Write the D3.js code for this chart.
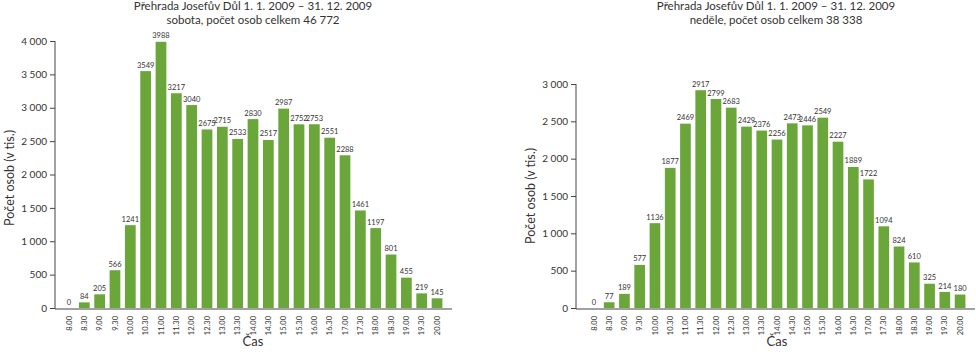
<!DOCTYPE html>
<html lang="cs">
<head>
    <meta charset="UTF-8">
    <title>Přehrada Josefův Důl</title>
    <script src="https://d3js.org/d3.v7.min.js"></script>
    <style>
        body { margin: 0; background: #fff; }
        text { font-family: Lato, "Open Sans", sans-serif; fill: #333; }
    </style>
</head>
<body>
<script>
    var width = 976;
    var height = 354;

    // casy (osa x)
    var casy = ["8.00", "8.30", "9.00", "9.30", "10.00", "10.30", "11.00", "11.30", "12.00", "12.30",
        "13.00", "13.30", "14.00", "14.30", "15.00", "15.30", "16.00", "16.30", "17.00", "17.30",
        "18.00", "18.30", "19.00", "19.30", "20.00"];

    // sobota
    var sobota = [0, 84, 205, 566, 1241, 3549, 3988, 3217, 3040, 2675, 2715, 2533, 2830, 2517, 2987,
        2752, 2753, 2551, 2288, 1461, 1197, 801, 455, 219, 145];
    var sobotaTicks = [0, 500, 1000, 1500, 2000, 2500, 3000, 3500, 4000];

    // nedele
    var nedele = [0, 77, 189, 577, 1136, 1877, 2469, 2917, 2799, 2683, 2429, 2376, 2256, 2473, 2446,
        2549, 2227, 1889, 1722, 1094, 824, 610, 325, 214, 180];
    var nedeleTicks = [0, 500, 1000, 1500, 2000, 2500, 3000];

    var green = "#6aa63a";

    var svg = d3.select("body").append("svg")
        .attr("width", width)
        .attr("height", height)

    function fmt(v) {
        return d3.format(",")(v).replace(/,/g, " ")
    }

    function drawChart(opt) {
        var g = svg.append("g")

        var x = d3.scaleBand()
            .domain(casy)
            .range([opt.x0, opt.x1])
            .padding(0.3)

        var y = d3.scaleLinear()
            .domain([0, d3.max(opt.ticks)])
            .range([opt.base, opt.top])

        // titulek
        g.append("text")
            .attr("x", opt.titleX)
            .attr("y", 10)
            .attr("text-anchor", "middle")
            .attr("font-size", "11.5px")
            .text("Přehrada Josefův Důl 1. 1. 2009 – 31. 12. 2009")
        g.append("text")
            .attr("x", opt.titleX)
            .attr("y", 24)
            .attr("text-anchor", "middle")
            .attr("font-size", "11.5px")
            .text(opt.subtitle)

        // sloupce
        g.selectAll(".bar")
            .data(opt.values)
            .enter().append("rect")
            .attr("x", function (d, i) { return x(casy[i]) })
            .attr("y", function (d) { return y(d) })
            .attr("width", x.bandwidth())
            .attr("height", function (d) { return y(0) - y(d) })
            .attr("fill", green)

        // popisky hodnot
        g.selectAll(".lbl")
            .data(opt.values)
            .enter().append("text")
            .attr("x", function (d, i) { return x(casy[i]) + x.bandwidth() / 2 })
            .attr("y", function (d) { return y(d) - 3.5 })
            .attr("text-anchor", "middle")
            .attr("font-size", "7.5px")
            .text(function (d) { return d })

        // osa y
        var yAxis = g.append("g")
            .attr("transform", "translate(" + opt.axisX + ",0)")
            .call(d3.axisLeft(y).tickValues(opt.ticks).tickSize(5).tickPadding(3).tickFormat(fmt))
        yAxis.select(".domain").remove()
        yAxis.selectAll(".tick line").attr("stroke", "#444")
        yAxis.selectAll(".tick text")
            .attr("font-size", "10px")
            .attr("font-family", "Lato, sans-serif")
            .attr("fill", "#333")
        g.append("line")
            .attr("x1", opt.axisX).attr("x2", opt.axisX)
            .attr("y1", y(d3.max(opt.ticks))).attr("y2", opt.base + 1)
            .attr("stroke", "#444")

        // osa x
        g.append("line")
            .attr("x1", opt.axisX).attr("x2", opt.x1 + 5)
            .attr("y1", opt.base + 1).attr("y2", opt.base + 1)
            .attr("stroke", "#444")

        g.selectAll(".xlbl")
            .data(casy)
            .enter().append("text")
            .attr("transform", function (d) {
                return "translate(" + (x(d) + x.bandwidth() / 2) + "," + (opt.base + 8) + ") rotate(-90)"
            })
            .attr("text-anchor", "end")
            .attr("dy", "0.35em")
            .attr("font-size", "7.5px")
            .text(function (d) { return d })

        // nazvy os
        g.append("text")
            .attr("x", (opt.x0 + opt.x1) / 2)
            .attr("y", 346)
            .attr("text-anchor", "middle")
            .attr("font-size", "13px")
            .text("Čas")

        g.append("text")
            .attr("transform", "translate(" + opt.labelX + "," + opt.labelY + ") rotate(-90)")
            .attr("text-anchor", "middle")
            .attr("font-size", "12.5px")
            .text("Počet osob (v tis.)")
    }

    drawChart({
        values: sobota, ticks: sobotaTicks,
        subtitle: "sobota, počet osob celkem 46 772",
        x0: 59, x1: 447, axisX: 55, base: 308, top: 41,
        titleX: 253, labelX: 14, labelY: 178
    })

    drawChart({
        values: nedele, ticks: nedeleTicks,
        subtitle: "neděle, počet osob celkem 38 338",
        x0: 584, x1: 970, axisX: 576, base: 308, top: 84,
        titleX: 776, labelX: 535, labelY: 196
    })
</script>
</body>
</html>
